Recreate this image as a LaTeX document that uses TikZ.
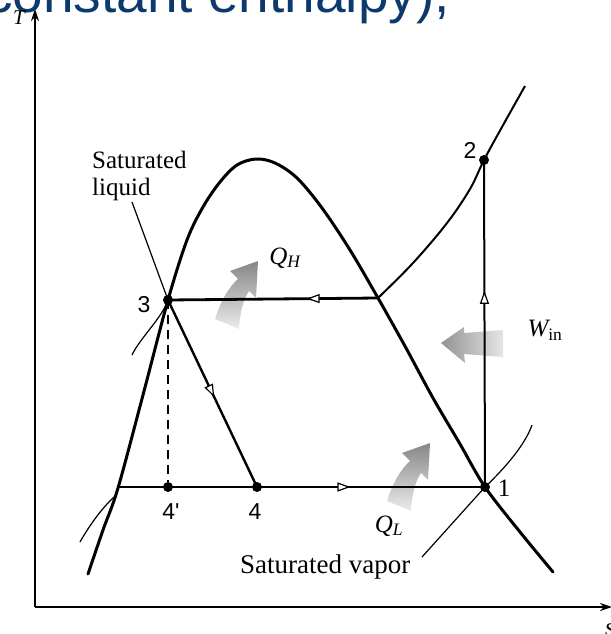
\documentclass[tikz,border=0pt]{standalone}
\usepackage{fontspec}
\setmainfont{Liberation Serif}
\newfontfamily\hdrfont{Liberation Sans}
\newfontfamily\numfont{Liberation Sans}
\usetikzlibrary{arrows.meta,decorations.markings}
\definecolor{hdrblue}{RGB}{12,58,108}
\begin{document}
\begin{tikzpicture}[x=1pt,y=-1pt,
  dome/.style={line width=3pt, line join=round, line cap=round},
  thinline/.style={line width=1.2pt},
  midline/.style={line width=2pt},
  axis/.style={line width=1.8pt, -{Stealth[length=12pt,width=8pt]}},
  dot/.style={circle, fill=black, inner sep=0pt, minimum size=10pt},
  num/.style={font=\numfont\fontsize{23}{25}\selectfont, inner sep=0pt},
  lbl/.style={font=\fontsize{25}{27}\selectfont, inner sep=0pt},
  openmark/.style={postaction={decorate, decoration={markings,
     mark=at position #1 with {\arrow{Triangle[fill=white,length=13pt,width=9pt,line width=1.2pt]}}}}},
  qarrow/.style={top color=gray!95, bottom color=gray!15, draw=none},
  warrow/.style={left color=gray!85, right color=gray!20, draw=none},
]
\useasboundingbox (0,0) rectangle (610,634);

% header text (cut by the page edge)
\node[anchor=base west, inner sep=0pt, font=\hdrfont\fontsize{55}{60}\selectfont, text=hdrblue] (hdr) at (-15,13) {constant enthalpy),};

% state points
\coordinate (p1) at (485,487);
\coordinate (p2) at (484,160);
\coordinate (p3) at (168,300);
\coordinate (p4) at (257,487);
\coordinate (p4p) at (168,487);
\coordinate (pl) at (118,487);
\coordinate (pv) at (378,298);
\coordinate (o) at (35,607);
\coordinate (tend) at (35,9);
\coordinate (send) at (612,607);

% gray heat / work arrows
\def\qshape{(215,319) .. controls (221,300) and (229,287) .. (238,279) -- (230,271) -- (258,261) -- (256,298) -- (249,291) .. controls (243,300) and (240,312) .. (239,329) -- cycle}
\shade[qarrow] \qshape;
\begin{scope}[shift={(172,182)}]
\shade[qarrow] \qshape;
\end{scope}
\shade[warrow] (441,343) -- (464,327) -- (464,333) -- (503,330) -- (503,357) -- (464,354) -- (465,363) -- cycle;

% axes
\draw[axis] (o) -- (tend);
\draw[axis] (o) -- (send);
\node[lbl, font=\itshape\fontsize{21}{23}\selectfont] (tl) at (19,18) {T};
\node[lbl, font=\itshape\fontsize{25}{27}\selectfont, anchor=west] (sl) at (605,630) {s};

% saturation dome
\draw[dome] plot[smooth, tension=0.55] coordinates {(88,574) (103,530) (118,488) (143,395) (168,300) (187,240) (203,207) (220,182) (237,165) (256,159) (275,163) (297,178) (322,208) (350,250) (378,298) (406,348) (433,398) (460,444) (485,487) (520,532) (553,572)};

% superheated constant-pressure line
\draw[midline] plot[smooth, tension=0.6] coordinates {(pv) (413,263) (447,223) (470,189) (484,160) (502,127) (525,86)};

% thin constant-pressure lines
\draw[thinline] (p3) .. controls (162,318) and (140,338) .. (132,355);
\draw[thinline] (p1) .. controls (505,468) and (525,445) .. (532,425);
\draw[thinline] (114,497) .. controls (100,510) and (88,528) .. (80,542);

% leaders
\draw[thinline] (132,202) -- (p3);
\draw[thinline] (p1) -- (422,557);

% cycle lines
\draw[line width=2.8pt, openmark=0.34] (pv) -- (p3);
\draw[midline, openmark=0.6] (p1) -- (p2);
\draw[line width=2.4pt, openmark=0.52] (p3) -- (p4);
\draw[line width=1.6pt] (pl) -- (p4);
\draw[line width=2.8pt, openmark=0.41] (p4) -- (p1);
\draw[line width=1.2pt, dash pattern=on 9pt off 6pt] (p3) -- (p4p);

% dots
\node[dot] (d1) at (p1) {};
\node[dot] (d2) at (p2) {};
\node[dot] (d3) at (p3) {};
\node[dot] (d4) at (p4) {};
\node[dot] (d4p) at (p4p) {};

% labels
\node[num] (l3) at (144,305) {3};
\node[num] (l2) at (470,150) {2};
\node[lbl] (l1) at (504,488) {1};
\node[num] (l4p) at (171,512) {4'};
\node[num] (l4) at (255,512) {4};
\node[lbl] (lqh) at (285,258) {\itshape Q\textsubscript{H}};
\node[lbl] (lql) at (389,526) {\itshape Q\textsubscript{L}};
\node[lbl] (lw) at (545,330) {{\itshape W}\textsubscript{in}};
\node[lbl, anchor=north west, align=left] (sliq) at (92,151) {Saturated\\liquid};
\node[lbl, font=\fontsize{27}{29}\selectfont, anchor=base west] (svap) at (240,573) {Saturated vapor};
\end{tikzpicture}
\end{document}
